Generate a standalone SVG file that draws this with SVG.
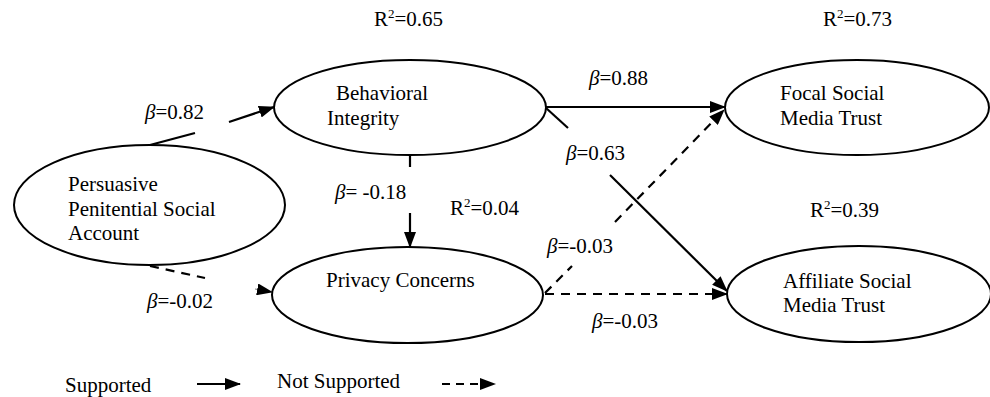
<svg xmlns="http://www.w3.org/2000/svg" width="990" height="397" viewBox="0 0 990 397">
<style>
text{font-family:"Liberation Serif","Times New Roman",serif;font-size:21px;fill:#000}
.b{font-style:italic}
.node{fill:#fff;stroke:#000;stroke-width:2}
.s{stroke:#000;stroke-width:2.2;fill:none}
.d{stroke:#000;stroke-width:2.2;fill:none;stroke-dasharray:9,7}
</style>
<defs>
<marker id="ah" markerUnits="userSpaceOnUse" markerWidth="16" markerHeight="12" refX="15" refY="6" orient="auto">
<path d="M0,0 L16,6 L0,12 Z" fill="#000"/>
</marker>
</defs>
<rect width="990" height="397" fill="#fff"/>
<g id="connectors">
<path class="s" d="M150,145 L195,133"/>
<path class="s" d="M229,122 L274,107" marker-end="url(#ah)"/>
<path class="s" d="M546,107 L725,107" marker-end="url(#ah)"/>
<path class="s" d="M546,108 L568,128"/>
<path class="s" d="M610,175 L727,291" marker-end="url(#ah)"/>
<path class="s" d="M410,155 L410,167"/>
<path class="s" d="M410,213 L410,247" marker-end="url(#ah)"/>
<path class="d" d="M150,266 L205,278"/>
<path class="d" d="M255,289 L272,292" marker-end="url(#ah)" style="stroke-dasharray:none;stroke-width:0.5"/>
<path class="d" d="M545,293 L572,266"/>
<path class="d" d="M615,222 L724,110" marker-end="url(#ah)"/>
<path class="d" d="M545,294 L727,294" marker-end="url(#ah)"/>
</g>
<g id="persuasive">
<ellipse class="node" cx="149.5" cy="205" rx="135.5" ry="60"/>
<text x="68" y="191">Persuasive</text>
<text x="68" y="216">Penitential Social</text>
<text x="68" y="240">Account</text>
</g>
<g id="behavioral">
<ellipse class="node" cx="410" cy="107.5" rx="136" ry="47.5"/>
<text x="336" y="100">Behavioral</text>
<text x="327" y="125">Integrity</text>
</g>
<g id="privacy">
<ellipse class="node" cx="407.5" cy="295" rx="135.5" ry="48"/>
<text x="326" y="287">Privacy Concerns</text>
</g>
<g id="focal">
<ellipse class="node" cx="857" cy="107.5" rx="132" ry="47.5"/>
<text x="780" y="100">Focal Social</text>
<text x="780" y="125">Media Trust</text>
</g>
<g id="affiliate">
<ellipse class="node" cx="859" cy="294" rx="132" ry="48"/>
<text x="783" y="288">Affiliate Social</text>
<text x="783" y="312">Media Trust</text>
</g>
<g id="labels">
<text x="374" y="26">R<tspan dy="-8" font-size="13">2</tspan><tspan dy="8">=0.65</tspan></text>
<text x="823" y="26">R<tspan dy="-8" font-size="13">2</tspan><tspan dy="8">=0.73</tspan></text>
<text x="450" y="215">R<tspan dy="-8" font-size="13">2</tspan><tspan dy="8">=0.04</tspan></text>
<text x="810" y="217">R<tspan dy="-8" font-size="13">2</tspan><tspan dy="8">=0.39</tspan></text>
<text x="145" y="119"><tspan class="b">β</tspan>=0.82</text>
<text x="589" y="85"><tspan class="b">β</tspan>=0.88</text>
<text x="566" y="160"><tspan class="b">β</tspan>=0.63</text>
<text x="335" y="199"><tspan class="b">β</tspan>= -0.18</text>
<text x="147" y="308"><tspan class="b">β</tspan>=-0.02</text>
<text x="547" y="253"><tspan class="b">β</tspan>=-0.03</text>
<text x="592" y="328"><tspan class="b">β</tspan>=-0.03</text>
</g>
<g id="legend">
<text x="65" y="392">Supported</text>
<path class="s" d="M197,384 L240,384" marker-end="url(#ah)"/>
<text x="277" y="388">Not Supported</text>
<path class="d" d="M442,384 L495,384" marker-end="url(#ah)" style="stroke-dasharray:8,6"/>
</g>
</svg>
